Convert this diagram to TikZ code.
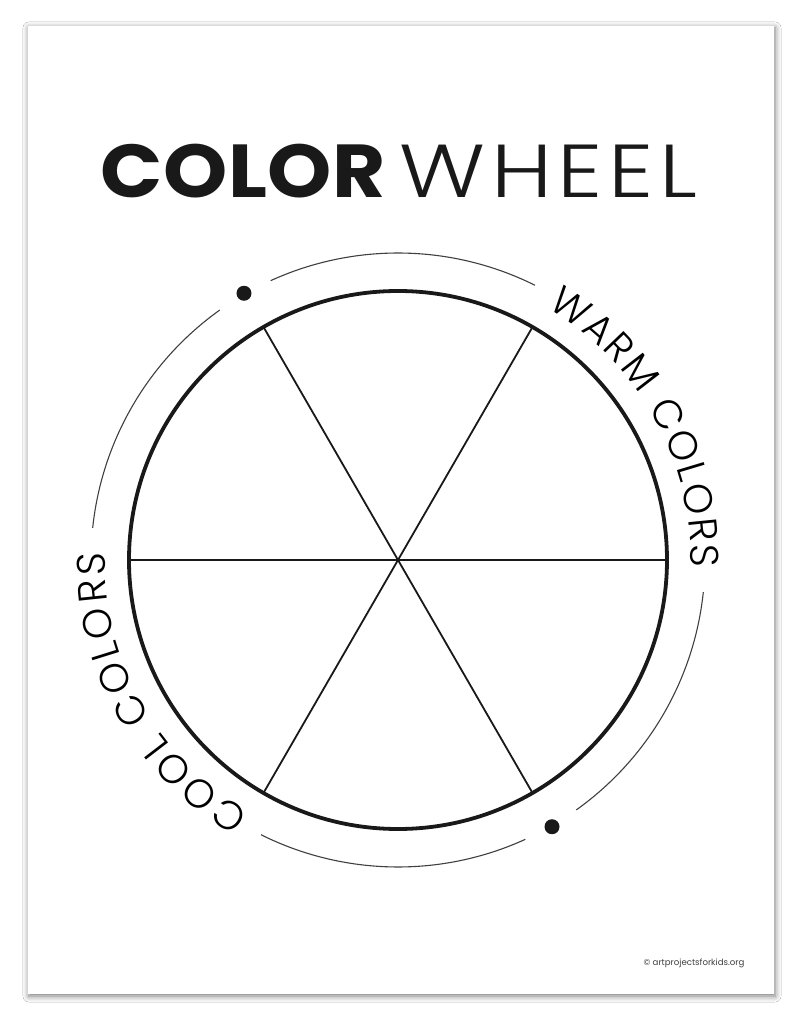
\documentclass[tikz,border=0pt]{standalone}
\usepackage{fontspec}
\setmainfont{Poppins}
\newfontfamily\popbold{Poppins Bold}[FakeStretch=1.09]
\newfontfamily\popthin{Poppins Light}[FakeStretch=1.2]
\newfontfamily\poplight{Poppins Light}
\usetikzlibrary{decorations.text,shadows.blur}
\tikzset{
  page/.style={fill=white, draw=none, blur shadow={shadow xshift=1pt, shadow yshift=-2pt, shadow blur radius=6pt, shadow opacity=55}},
  wheelrim/.style={line width=3.8pt, draw=black!90},
  spoke/.style={line width=1.8pt, draw=black!90},
  outerarc/.style={line width=1.1pt, draw=black!75},
  dotmark/.style={circle, fill=black!90, inner sep=0pt, minimum size=15pt},
  titletext/.style={inner sep=0pt, text=black!90},
  footer/.style={inner sep=0pt, text=black!75, font=\fontsize{8.6}{9}\selectfont}
}
\newcommand{\arcfont}{\poplight\fontsize{40}{40}\selectfont}
\newcommand{\kc}{\kern0.5pt}
\newcommand{\kw}{\kern5.5pt}
\begin{document}
\begin{tikzpicture}[x=1pt,y=1pt]
\useasboundingbox (-398,-464) rectangle (399,560);
\fill[white] (-398,-464) rectangle (399,560);
% page
\path[page] (-370,-434) rectangle (376,534);
% title
\node[titletext] (title) at (1,389) {\fontsize{75}{75}\selectfont{\popbold C\kc O\kc L\kc O\kc R}\kern14pt{\popthin W\kw H\kw E\kw E\kw L}};
% wheel
\coordinate (c) at (0,0);
\foreach \a in {0,60,120,180,240,300} {\coordinate (r\a) at (\a:269);}
\draw[spoke] (r0) -- (r180);
\draw[spoke] (r60) -- (r240);
\draw[spoke] (r120) -- (r300);
\draw[wheelrim] (c) circle[radius=269];
% outer arcs
\draw[outerarc] (174:307) arc[start angle=174, end angle=125.5, radius=307];
\draw[outerarc] (114.5:307) arc[start angle=114.5, end angle=63.5, radius=307];
\draw[outerarc] (-6:307) arc[start angle=-6, end angle=-54.5, radius=307];
\draw[outerarc] (-65.5:307) arc[start angle=-65.5, end angle=-116.5, radius=307];
\node[dotmark] (dotA) at (120:308) {};
\node[dotmark] (dotB) at (-60:308) {};
% arc texts
\path[postaction={decorate}, decoration={text along path, text={|\arcfont|WARM COLORS}, text align={fit to path}}]
  (59.5:293) arc[start angle=59.5, end angle=-1.5, radius=293];
\path[postaction={decorate}, decoration={text along path, text={|\arcfont|COOL COLORS}, text align={fit to path}}]
  (239.5:293) arc[start angle=239.5, end angle=178.5, radius=293];
% footer
\node[footer] (credit) at (296,-403) {\textcopyright\ artprojectsforkids.org};
\end{tikzpicture}
\end{document}
